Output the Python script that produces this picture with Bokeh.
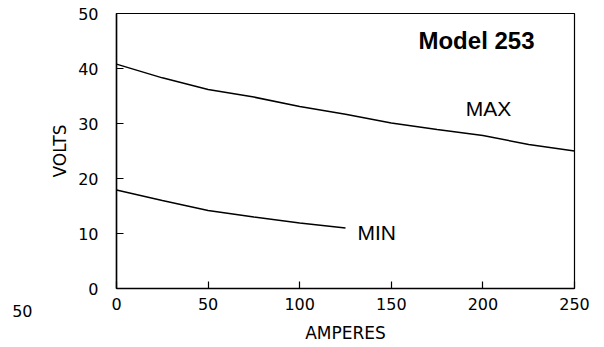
from bokeh.plotting import figure
from bokeh.models import Range1d, Label, FixedTicker, LinearAxis
from bokeh.embed import file_html
from bokeh.resources import INLINE

# Data
amps_max = [0, 25, 50, 75, 100, 125, 150, 175, 200, 225, 250]
volts_max = [40.8, 38.3, 36.2, 34.8, 33.1, 31.7, 30.1, 28.9, 27.8, 26.2, 25.0]
amps_min = [0, 25, 50, 75, 100, 125]
volts_min = [17.9, 16.0, 14.2, 13.0, 11.9, 11.0]
x_ticks = [0, 50, 100, 150, 200, 250]
y_ticks = [0, 10, 20, 30, 40, 50]
stray_label = "50"

TICK_FONT = "DejaVu Sans"
FONT = "Liberation Sans"

p = figure(width=590, height=347, output_backend="svg", toolbar_location=None,
           x_range=Range1d(0, 250), y_range=Range1d(0, 50),
           min_border_left=116, min_border_right=16, min_border_top=13, min_border_bottom=59)

p.xgrid.visible = False
p.ygrid.visible = False
p.outline_line_color = "black"
p.outline_line_width = 1.2
p.background_fill_color = "white"
p.border_fill_color = "white"

for ax in (p.xaxis[0], p.yaxis[0]):
    ax.axis_line_color = "black"
    ax.axis_line_width = 1.5
    ax.major_tick_in = 7
    ax.major_tick_out = 0
    ax.minor_tick_line_color = None
    ax.major_tick_line_color = "black"
    ax.major_tick_line_width = 1.2
    ax.major_label_text_font = TICK_FONT
    ax.major_label_text_font_size = "16px"
    ax.major_label_text_color = "black"
    ax.axis_label_text_font = TICK_FONT
    ax.axis_label_text_font_size = "17px"
    ax.axis_label_text_font_style = "normal"
    ax.axis_label_text_color = "black"

p.xaxis.ticker = FixedTicker(ticks=x_ticks)
p.yaxis.ticker = FixedTicker(ticks=y_ticks)
p.xaxis.axis_label = "AMPERES"
p.yaxis.axis_label = "VOLTS"
p.xaxis.major_label_standoff = 9
p.yaxis.major_label_standoff = 18
p.xaxis.axis_label_standoff = 10
p.yaxis.axis_label_standoff = 5

# stray "50" label at the lower left, drawn by a bare extra axis
p.extra_y_ranges = {"stray": Range1d(0, 50)}
ax2 = LinearAxis(y_range_name="stray", ticker=FixedTicker(ticks=[0]),
                 major_label_overrides={0: "\n\n" + stray_label},
                 axis_line_color=None, major_tick_line_color=None, minor_tick_line_color=None,
                 major_tick_in=0, major_tick_out=0,
                 major_label_text_font=TICK_FONT, major_label_text_font_size="16px",
                 major_label_text_color="black", major_label_standoff=15)
p.add_layout(ax2, "left")

p.line(amps_max, volts_max, line_color="black", line_width=1.5)
p.line(amps_min, volts_min, line_color="black", line_width=1.5)

p.add_layout(Label(x=196.5, y=45.1, text="Model 253", text_font=FONT, text_font_size="24px",
                   text_font_style="bold", text_align="center", text_baseline="middle",
                   text_color="black"))
p.add_layout(Label(x=203, y=32.7, text="MAX", text_font=FONT, text_font_size="21px",
                   text_align="center", text_baseline="middle", text_color="black"))
p.add_layout(Label(x=142, y=10.2, text="MIN", text_font=FONT, text_font_size="21px",
                   text_align="center", text_baseline="middle", text_color="black"))

open("out.html", "w").write(file_html(p, INLINE))
